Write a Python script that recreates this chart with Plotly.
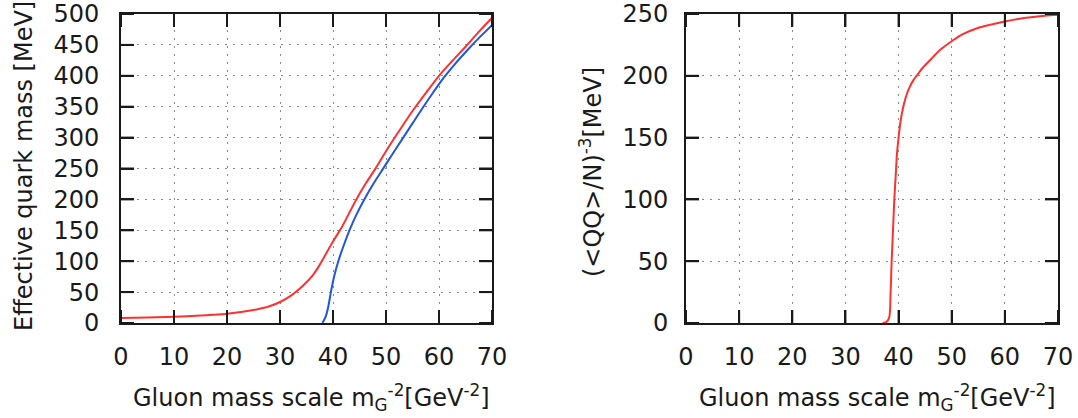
import plotly.graph_objects as go

# Left panel: effective quark mass vs gluon mass scale
mass_red_x = [0, 5, 10, 15, 20, 25, 28, 30, 32, 33.75, 35, 36.25, 37.2, 38.1, 39, 40, 41.6, 43,
              44.4, 46.2, 48.1, 50, 52.5, 55, 57.5, 60, 62.5, 65, 67.5, 70]
mass_red_y = [8, 9, 10, 12, 15, 21, 27, 34, 44, 56, 66, 78, 90, 103, 117, 132, 154, 177,
              200, 226, 251, 278, 311, 343, 372, 400, 424, 447, 471, 494]

mass_blue_x = [38.0, 38.6, 39.1, 39.6, 40.2, 41.0, 42.0, 43.1, 44.4, 45.9, 47.6, 49.4, 51.2,
               53.1, 55, 56.9, 58.9, 60.9, 63, 65.3, 67.5, 70]
mass_blue_y = [0, 10, 26, 50, 75, 100, 125, 150, 175, 200, 225, 249, 273,
               298, 323, 348, 373, 397, 419, 441, 461, 482]

# Right panel: condensate scale vs gluon mass scale
cond_x = [37.0, 37.6, 38.2, 38.5, 38.7, 39.0, 39.2, 39.5, 39.7, 40.0, 40.3, 40.6, 41.0, 41.5,
          42.1, 42.8, 43.4, 44.6, 46, 48, 50, 52, 54.8, 57.5, 60, 62.5, 64.9, 67.5, 70]
cond_y = [0, 0.5, 4, 25, 50, 80, 100, 122, 137, 150, 161, 169, 177, 184.5,
          191, 196.5, 200, 206.7, 213, 221.6, 228, 233.6, 238.5, 241.5, 244, 246, 247.4, 248.5, 249.3]

x_ticks = [0, 10, 20, 30, 40, 50, 60, 70]
left_y_ticks = [0, 50, 100, 150, 200, 250, 300, 350, 400, 450, 500]
right_y_ticks = [0, 50, 100, 150, 200, 250]

RED = "#ff3030"
BLUE = "#2255dd"
INK = "#1a1a1a"
FONT = "DejaVu Sans"
FS = 24

W, H = 1078, 418
# panel frames in pixels: (left, right), shared (top, bottom)
L1, R1 = 121, 492
L2, R2 = 686, 1058
TOP, BOT = 14, 323
TICK = 13  # inward tick length, px

fig = go.Figure()
fig.add_trace(go.Scatter(x=mass_red_x, y=mass_red_y, mode="lines",
                         line=dict(color=RED, width=2, shape="spline", smoothing=0.8),
                         xaxis="x", yaxis="y", showlegend=False))
fig.add_trace(go.Scatter(x=mass_blue_x, y=mass_blue_y, mode="lines",
                         line=dict(color=BLUE, width=2, shape="spline", smoothing=0.8),
                         xaxis="x", yaxis="y", showlegend=False))
fig.add_trace(go.Scatter(x=cond_x, y=cond_y, mode="lines",
                         line=dict(color=RED, width=2, shape="spline", smoothing=0.9),
                         xaxis="x2", yaxis="y2", showlegend=False))

common = dict(
    showline=True, linecolor=INK, linewidth=2, mirror="ticks",
    ticks="inside", ticklen=TICK, tickwidth=2, tickcolor=INK,
    showgrid=True, gridcolor="#8a8a8a", gridwidth=1, griddash="2px,6px",
    zeroline=False, automargin=False,
    tickfont=dict(family=FONT, size=FS, color=INK),
)

fig.update_layout(
    width=W, height=H,
    margin=dict(l=0, r=0, t=0, b=0),
    paper_bgcolor="white", plot_bgcolor="white",
    font=dict(family=FONT, color=INK),
    xaxis=dict(domain=[L1 / W, R1 / W], range=[0, 70], tickvals=x_ticks,
               anchor="y", ticklabelstandoff=11, **common),
    yaxis=dict(domain=[1 - BOT / H, 1 - TOP / H], range=[0, 500], tickvals=left_y_ticks,
               anchor="x", ticklabelstandoff=15, **common),
    xaxis2=dict(domain=[L2 / W, R2 / W], range=[0, 70], tickvals=x_ticks,
                anchor="y2", ticklabelstandoff=11, **common),
    yaxis2=dict(domain=[1 - BOT / H, 1 - TOP / H], range=[0, 250], tickvals=right_y_ticks,
                anchor="x2", ticklabelstandoff=11, **common),
)

# inward tick marks on all four sides of each frame
tick_line = dict(color=INK, width=2)
fx = TICK / (R1 - L1)
fy = TICK / (BOT - TOP)
for xa, ya, yticks in (("x", "y", left_y_ticks), ("x2", "y2", right_y_ticks)):
    for v in x_ticks:
        for y0, y1 in ((0, fy), (1 - fy, 1)):
            fig.add_shape(type="line", xref=xa, yref=f"{ya} domain", x0=v, x1=v, y0=y0, y1=y1,
                          line=tick_line, layer="above")
    for v in yticks:
        for x0, x1 in ((0, fx), (1 - fx, 1)):
            fig.add_shape(type="line", xref=f"{xa} domain", yref=ya, x0=x0, x1=x1, y0=v, y1=v,
                          line=tick_line, layer="above")

xtitle = "Gluon mass scale m<sub>G</sub><sup>-2</sup>[GeV<sup>-2</sup>]"
titles = [
    dict(text=xtitle, x=(L1 + R1) / 2 / W + 0.005, y=1 - 397 / H, textangle=0),
    dict(text=xtitle, x=(L2 + R2) / 2 / W + 0.005, y=1 - 397 / H, textangle=0),
    dict(text="Effective quark mass [MeV]", x=24 / W, y=1 - 166 / H, textangle=-90),
    dict(text="(&lt;QQ&gt;/N)<sup>-3</sup>[MeV]", x=591 / W, y=1 - 172 / H, textangle=-90),
]
for t in titles:
    fig.add_annotation(text=t["text"], x=t["x"], y=t["y"], xref="paper", yref="paper",
                       xanchor="center", yanchor="middle", textangle=t["textangle"],
                       showarrow=False, font=dict(family=FONT, size=FS, color=INK))

fig.write_html("out.html")
